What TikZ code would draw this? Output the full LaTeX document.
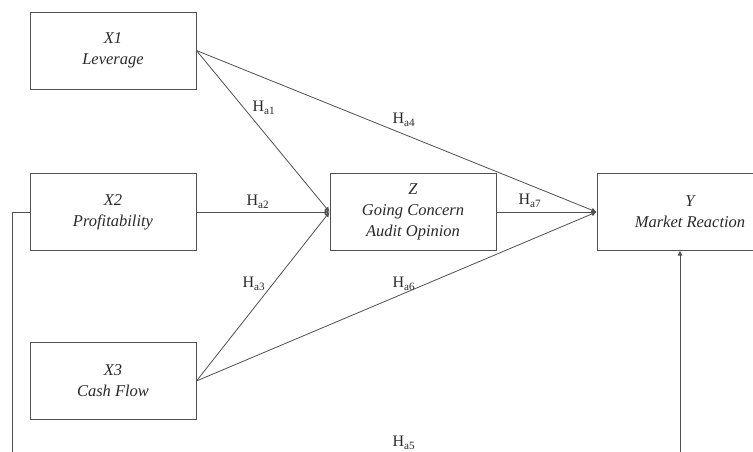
\documentclass[tikz,border=0pt]{standalone}
\usepackage{fontspec}
\setmainfont{Liberation Serif}
\usetikzlibrary{arrows.meta}
\definecolor{ln}{HTML}{505050}
\definecolor{tx}{HTML}{2a2a2a}
\begin{document}
\begin{tikzpicture}[x=1pt,y=-1pt,
  box/.style={draw=ln, line width=0.9pt, minimum width=166pt, minimum height=77pt,
    align=center, text=tx, font=\fontsize{16.5}{21}\selectfont\itshape, inner sep=0pt},
  lbl/.style={text=tx, font=\fontsize{16}{19}\selectfont, inner sep=0pt},
  con/.style={draw=ln, line width=0.8pt},
  arr/.style={con, -{Latex[length=5pt,width=5pt]}}]
\useasboundingbox (0,0) rectangle (753,452);
\fill[white] (0,0) rectangle (753,452);
\clip (0,0) rectangle (753,452);

\node[box] (x1) at (113,50.5) {X1\\Leverage};
\node[box] (x2) at (113,212) {X2\\Profitability};
\node[box] (x3) at (113,381) {X3\\Cash Flow};
\node[box] (z) at (413,212) {Z\\Going Concern\\Audit Opinion};
\node[box, minimum width=186pt] (y) at (690,212) {Y\\Market Reaction};

\draw[arr] (x1.east) -- (z.west);
\draw[arr] (x2.east) -- (z.west);
\draw[arr] (x3.east) -- (z.west);
\draw[arr] (x1.east) -- (y.west);
\draw[arr] (z.east) -- (y.west);
\draw[arr] (x3.east) -- (y.west);

\coordinate (fbL) at (12,212);
\coordinate (fbB1) at (12,480);
\coordinate (fbB2) at (680,480);
\coordinate (fbT) at (680,250.5);
\draw[arr] (x2.west) -- (fbL) -- (fbB1) -- (fbB2) -- (fbT);

\node[lbl] (h1) at (264,108) {H\textsubscript{a1}};
\node[lbl] (h2) at (258,202) {H\textsubscript{a2}};
\node[lbl] (h3) at (254,284) {H\textsubscript{a3}};
\node[lbl] (h4) at (404,120) {H\textsubscript{a4}};
\node[lbl] (h5) at (404,443) {H\textsubscript{a5}};
\node[lbl] (h6) at (404,284) {H\textsubscript{a6}};
\node[lbl] (h7) at (530,201) {H\textsubscript{a7}};
\end{tikzpicture}
\end{document}
